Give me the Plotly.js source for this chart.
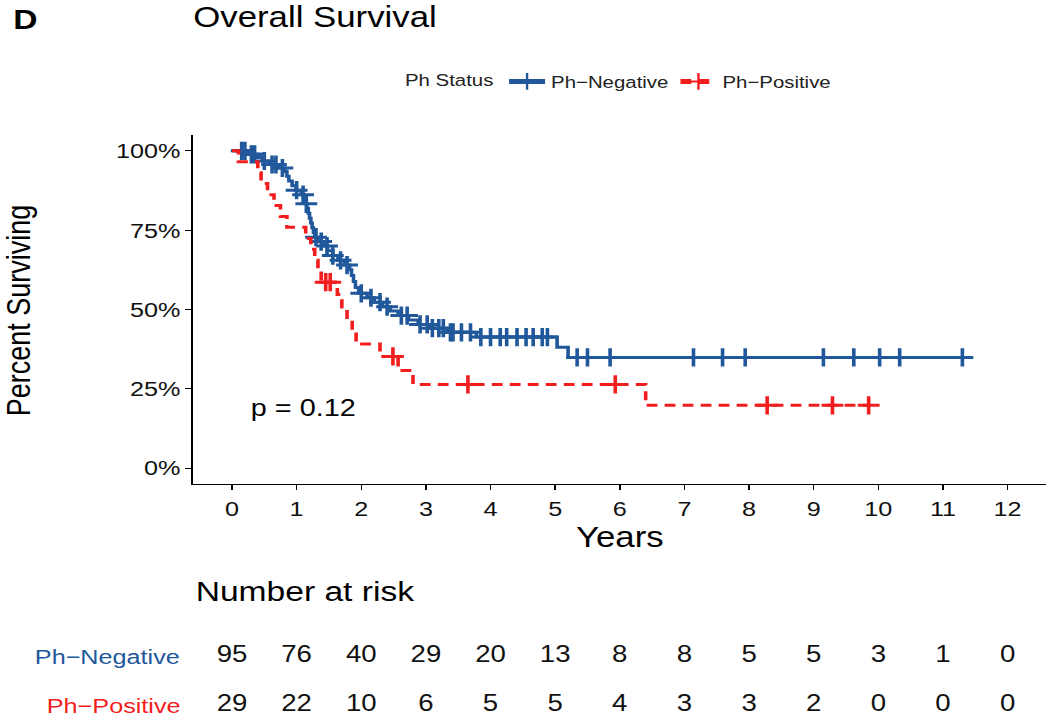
<!DOCTYPE html>
<html>
<head>
<meta charset="utf-8">
<script src="https://cdn.plot.ly/plotly-3.0.1.min.js"></script>
<style>
  html, body { margin: 0; padding: 0; background: #fff; overflow: hidden; }
  #wrap { width: 1050px; height: 719px; overflow: hidden; }
  #plot { width: 875px; height: 719px; transform: scaleX(1.2); transform-origin: 0 0; }
</style>
</head>
<body>
<div id="wrap"><div id="plot"></div></div>
<script>
// ---------------- data ----------------
const groupNames = ['Ph\u2212Negative', 'Ph\u2212Positive'];
const groupColors = ['#21589b', '#f21d1d'];
const legendTitle = 'Ph Status';
const pValueText = 'p = 0.12';

// Ph-Negative: event times (years) and survival after each event
const negEventT = [0.25, 0.40, 0.47, 0.58, 0.72, 0.82, 0.85, 0.88, 0.93, 0.99,
                   1.07, 1.11, 1.14, 1.16, 1.18, 1.20, 1.22, 1.24, 1.26, 1.28,
                   1.33, 1.42, 1.48, 1.56, 1.64, 1.74, 1.82, 1.85, 1.88, 1.91,
                   1.96, 2.09, 2.20, 2.33, 2.45, 2.57, 2.73, 2.88, 3.06, 3.33,
                   3.78, 5.03, 5.20];
const negEventS = [0.989, 0.979, 0.968, 0.957, 0.946, 0.935, 0.920, 0.905, 0.890, 0.876,
                   0.862, 0.848, 0.833, 0.818, 0.803, 0.788, 0.773, 0.758, 0.743, 0.728,
                   0.714, 0.700, 0.685, 0.670, 0.655, 0.640, 0.625, 0.607, 0.588, 0.569,
                   0.551, 0.537, 0.523, 0.509, 0.495, 0.481, 0.467, 0.453, 0.441, 0.428,
                   0.413, 0.381, 0.349];
const negCensorT = [0.15, 0.20, 0.30, 0.35, 0.50, 0.62, 0.68, 0.78, 1.00, 1.10,
                    1.15, 1.30, 1.38, 1.47, 1.56, 1.68, 1.78, 2.00, 2.15, 2.29,
                    2.40, 2.62, 2.71, 2.91, 3.02, 3.10, 3.20, 3.27, 3.38, 3.42,
                    3.55, 3.69, 3.85, 4.00, 4.15, 4.25, 4.41, 4.55, 4.66, 4.80,
                    4.88, 5.34, 5.50, 5.85, 7.14, 7.59, 7.94, 9.15, 9.62, 10.02,
                    10.33, 11.30];

// Ph-Positive
const posEventT = [0.10, 0.40, 0.45, 0.55, 0.65, 0.75, 0.85, 1.14, 1.22, 1.28,
                   1.33, 1.38, 1.63, 1.70, 1.78, 1.86, 1.92, 2.29, 2.57, 2.80, 6.40];
const posEventS = [0.966, 0.931, 0.897, 0.862, 0.828, 0.793, 0.759, 0.724, 0.690, 0.655,
                   0.621, 0.586, 0.547, 0.508, 0.469, 0.430, 0.391, 0.352, 0.308, 0.264, 0.198];
const posCensorT = [1.45, 1.52, 2.49, 3.65, 5.93, 8.28, 9.29, 9.85];

// Number at risk table
const riskYears = [0, 1, 2, 3, 4, 5, 6, 7, 8, 9, 10, 11, 12];
const negRisk = [95, 76, 40, 29, 20, 13, 8, 8, 5, 5, 3, 1, 0];
const posRisk = [29, 22, 10, 6, 5, 5, 4, 3, 3, 2, 0, 0, 0];

const xTicks = [0, 1, 2, 3, 4, 5, 6, 7, 8, 9, 10, 11, 12];
const yTicks = [0, 0.25, 0.5, 0.75, 1];
const yTickText = ['0%', '25%', '50%', '75%', '100%'];

// ---------------- helpers ----------------
function survAt(evT, evS, t) {
  let s = 1;
  for (let i = 0; i < evT.length; i++) { if (evT[i] <= t) s = evS[i]; }
  return s;
}
function buildCurve(evT, evS, cT) {
  const pts = [{ t: 0, s: 1, c: false }];
  evT.forEach((t, i) => pts.push({ t: t, s: evS[i], c: false }));
  cT.forEach(t => pts.push({ t: t, s: survAt(evT, evS, t), c: true }));
  pts.sort((a, b) => a.t - b.t || (a.c - b.c));
  return {
    x: pts.map(p => p.t),
    y: pts.map(p => p.s),
    size: pts.map(p => p.c ? 13 : 0)
  };
}

const FONT = '"Liberation Sans", Arial, Helvetica, sans-serif';
const curves = [buildCurve(negEventT, negEventS, negCensorT), buildCurve(posEventT, posEventS, posCensorT)];

const traces = curves.map((c, i) => ({
  type: 'scatter',
  x: c.x, y: c.y,
  mode: 'lines+markers',
  name: groupNames[i],
  xaxis: 'x', yaxis: 'y',
  line: { shape: 'hv', color: groupColors[i], width: 3, dash: i === 0 ? 'solid' : '9px,6px' },
  marker: { symbol: 'cross-thin', size: c.size, opacity: 1, color: groupColors[i],
            line: { color: groupColors[i], width: 3 } },
  hoverinfo: 'skip'
}));

[negRisk, posRisk].forEach((arr, i) => {
  traces.push({
    type: 'scatter',
    x: riskYears,
    y: riskYears.map(() => 1 - i),
    mode: 'text',
    text: arr.map(String),
    textposition: 'middle center',
    textfont: { family: FONT, size: 23, color: '#111' },
    xaxis: 'x2', yaxis: 'y2',
    showlegend: false,
    hoverinfo: 'skip'
  });
});

const annotations = [
  { text: '<b>D</b>', xref: 'paper', yref: 'paper', x: -0.2140, y: 1.1986, xanchor: 'left', yanchor: 'middle',
    showarrow: false, font: { family: FONT, size: 28, color: '#000' } },
  { text: 'Percent Surviving', xref: 'paper', yref: 'paper', x: -0.2035, y: 0.7003, xanchor: 'center', yanchor: 'middle',
    textangle: -90, showarrow: false, font: { family: FONT, size: 27, color: '#000' } },
  { text: 'Years', xref: 'paper', yref: 'paper', x: 0.5, y: 0.3116, xanchor: 'center', yanchor: 'middle',
    showarrow: false, font: { family: FONT, size: 29, color: '#000' } },
  { text: pValueText, xref: 'x', yref: 'y', x: 0.25, y: 0.19, xanchor: 'left', yanchor: 'middle',
    showarrow: false, font: { family: FONT, size: 24, color: '#000' } },
  { text: 'Number at risk', xref: 'paper', yref: 'paper', x: 0.0, y: 0.2175, xanchor: 'left', yanchor: 'middle',
    showarrow: false, font: { family: FONT, size: 28, color: '#000' } }
];
groupNames.forEach((g, i) => {
  annotations.push({ text: g, xref: 'paper', yref: 'y2', x: -0.012, y: 1 - i, xanchor: 'right', yanchor: 'middle',
    showarrow: false, font: { family: FONT, size: 21, color: groupColors[i] } });
});

const layout = {
  width: 875, height: 719,
  margin: { l: 161, r: 3, t: 135, b: 0, pad: 0 },
  paper_bgcolor: '#fff', plot_bgcolor: '#fff',
  font: { family: FONT, color: '#000' },
  title: { text: 'Overall Survival', font: { family: FONT, size: 29, color: '#000' },
           x: 0, xref: 'paper', xanchor: 'left', y: 0.9764, yref: 'container', yanchor: 'middle' },
  showlegend: true,
  legend: {
    orientation: 'h', x: 0.5, xanchor: 'center', y: 1.091, yanchor: 'middle',
    title: { text: legendTitle, side: 'left', font: { family: FONT, size: 17, color: '#222' } },
    font: { family: FONT, size: 17, color: '#222' },
    itemsizing: 'constant', bgcolor: 'rgba(0,0,0,0)', traceorder: 'normal'
  },
  xaxis: {
    domain: [0, 1], anchor: 'y', range: [-0.6, 12.6],
    tickvals: xTicks, ticktext: xTicks.map(String),
    ticks: 'outside', ticklen: 5, tickwidth: 1.2, tickcolor: '#000',
    showline: true, linecolor: '#000', linewidth: 1.5,
    showgrid: false, zeroline: false,
    tickfont: { family: FONT, size: 21, color: '#111' }
  },
  yaxis: {
    domain: [0.4024, 1], anchor: 'x', range: [-0.05, 1.05],
    tickvals: yTicks, ticktext: yTickText,
    ticks: 'outside', ticklen: 5, tickwidth: 1.2, tickcolor: '#000',
    showline: true, linecolor: '#000', linewidth: 1.5,
    showgrid: false, zeroline: false,
    tickfont: { family: FONT, size: 21, color: '#111' }
  },
  xaxis2: { domain: [0, 1], anchor: 'y2', range: [-0.6, 12.6], visible: false },
  yaxis2: { domain: [0, 0.2], anchor: 'x2', range: [-0.2857, 2.098], visible: false },
  annotations: annotations
};

Plotly.newPlot('plot', traces, layout, { displayModeBar: false, responsive: false, staticPlot: true });
</script>
</body>
</html>
